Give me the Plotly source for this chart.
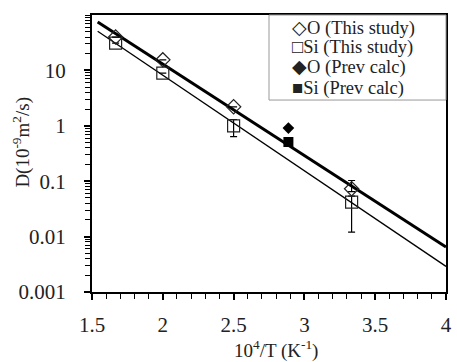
import plotly.graph_objects as go

# ---- data ----
x_study = [10/6, 2.0, 2.5, 10/3]
o_study = [40, 15.5, 2.2, 0.073]
si_study = [31, 8.9, 1.0, 0.042]
si_err_plus = [0, 0, 0.3, 0.012]
si_err_minus = [0, 0, 0.36, 0.030]
o_err_plus = [0, 0, 0, 0.030]
o_err_minus = [0, 0, 0, 0.008]

x_prev = [2.887]
o_prev = [0.91]
si_prev = [0.51]

x_fit = [1.54, 4.0]
o_fit = [75, 0.0065]
si_fit = [51, 0.0029]

x_ticks = [1.5, 2, 2.5, 3, 3.5, 4]
x_tick_labels = ["1.5", "2", "2.5", "3", "3.5", "4"]
y_ticks = [0.001, 0.01, 0.1, 1, 10]
y_tick_labels = ["0.001", "0.01", "0.1", "1", "10"]

legend_labels = ["\u25c7O (This study)", "\u25a1Si (This study)",
                 "\u25c6O (Prev calc)", "\u25a0Si (Prev calc)"]

FONT = "Liberation Serif"

fig = go.Figure()
fig.add_trace(go.Scatter(x=x_fit, y=o_fit, mode="lines",
                         line=dict(color="black", width=3), showlegend=False))
fig.add_trace(go.Scatter(x=x_fit, y=si_fit, mode="lines",
                         line=dict(color="black", width=1.3), showlegend=False))
fig.add_trace(go.Scatter(x=x_study, y=si_study, mode="markers",
                         marker=dict(symbol="square-open", size=12, color="#222",
                                     line=dict(width=1.2, color="#222")),
                         error_y=dict(type="data", symmetric=False, array=si_err_plus,
                                      arrayminus=si_err_minus, color="black",
                                      thickness=1.2, width=3.5),
                         showlegend=False))
fig.add_trace(go.Scatter(x=x_study, y=o_study, mode="markers",
                         marker=dict(symbol="diamond-open", size=11, color="#222",
                                     line=dict(width=1.2, color="#222")),
                         error_y=dict(type="data", symmetric=False, array=o_err_plus,
                                      arrayminus=o_err_minus, color="black",
                                      thickness=1.2, width=3.5),
                         showlegend=False))
fig.add_trace(go.Scatter(x=x_prev, y=o_prev, mode="markers",
                         marker=dict(symbol="diamond", size=9, color="black"),
                         showlegend=False))
fig.add_trace(go.Scatter(x=x_prev, y=si_prev, mode="markers",
                         marker=dict(symbol="square", size=10, color="black"),
                         showlegend=False))

fig.update_xaxes(range=[1.5, 4], tickvals=x_ticks, ticktext=x_tick_labels,
                 showgrid=False, zeroline=False, showline=True, linecolor="black",
                 linewidth=2, mirror=True, ticks="outside", ticklen=6, tickwidth=1.5,
                 tickcolor="black", ticklabelstandoff=7,
                 minor=dict(dtick=0.1, ticks="outside", ticklen=5, tickwidth=1.2,
                            tickcolor="black", showgrid=False),
                 tickfont=dict(family=FONT, size=21, color="#222"))
fig.update_yaxes(type="log", range=[-3, 2], tickvals=y_ticks, ticktext=y_tick_labels,
                 showgrid=False, zeroline=False, showline=True, linecolor="black",
                 linewidth=2, mirror=True, ticks="outside", ticklen=6, tickwidth=1.5,
                 tickcolor="black", ticklabelstandoff=14,
                 minor=dict(dtick="D1", ticks="outside", ticklen=5, tickwidth=1.2,
                            tickcolor="black", showgrid=False),
                 tickfont=dict(family=FONT, size=21, color="#222"))

# legend box
fig.add_shape(type="rect", xref="paper", yref="paper", x0=0.5, x1=1.0, y0=0.693, y1=1.0,
              line=dict(color="#999", width=1), fillcolor="white", layer="above")
legend_y = [0.953, 0.881, 0.809, 0.736]
annotations = []
for lab, yy in zip(legend_labels, legend_y):
    annotations.append(dict(text=lab, xref="paper", yref="paper", x=0.56, y=yy,
                            xanchor="left", yanchor="middle", showarrow=False,
                            font=dict(family=FONT, size=18.5, color="#222")))
annotations.append(dict(text="10<sup>4</sup>/T (K<sup>-1</sup>)", xref="paper", yref="paper",
                        x=0.519, y=-0.208, xanchor="center", yanchor="middle",
                        showarrow=False, font=dict(family=FONT, size=19, color="#222")))
annotations.append(dict(text="D(10<sup>-9</sup>m<sup>2</sup>/s)", xref="paper", yref="paper",
                        x=-0.2, y=0.54, xanchor="center", yanchor="middle", textangle=-90,
                        showarrow=False, font=dict(family=FONT, size=19, color="#222")))
fig.update_layout(annotations=annotations, width=457, height=362,
                  margin=dict(l=92, r=5, t=15, b=70),
                  font=dict(family=FONT, color="#222"),
                  plot_bgcolor="white", paper_bgcolor="white", showlegend=False)

fig.write_html("out.html")
